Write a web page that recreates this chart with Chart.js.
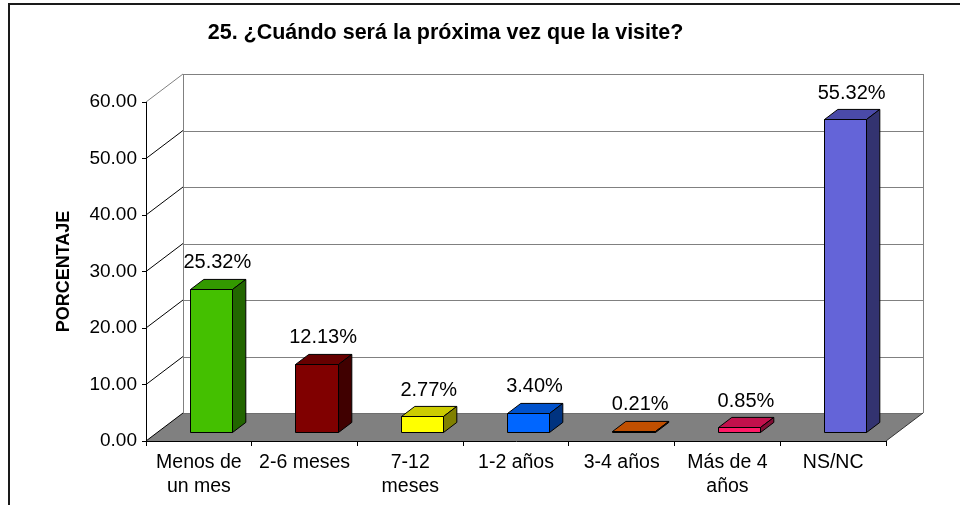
<!DOCTYPE html>
<html>
<head>
<meta charset="utf-8">
<script src="https://cdn.jsdelivr.net/npm/chart.js@4.4.0/dist/chart.umd.min.js"></script>
<style>
  html, body { margin: 0; padding: 0; background: #fff; }
  #wrap { width: 965px; height: 505px; }
</style>
</head>
<body>
<div id="wrap"><canvas id="chart" width="965" height="505"></canvas></div>
<script>
const chartTitle = '25. ¿Cuándo será la próxima vez que la visite?';
const categories = [['Menos de', 'un mes'], '2-6 meses', ['7-12', 'meses'], '1-2 años', '3-4 años', ['Más de 4', 'años'], 'NS/NC'];
const percentages = [25.32, 12.13, 2.77, 3.40, 0.21, 0.85, 55.32];
const yTicks = [0, 10, 20, 30, 40, 50, 60];

// colours of each bar: front face, top face, side face
const barFront = ['#44C000', '#800000', '#FFFF00', '#0066FF', '#E65C00', '#FF1966', '#6464D8'];
const barTop   = ['#339900', '#660000', '#CCCC00', '#0052CC', '#C04F00', '#C2104C', '#4A4AA8'];
const barSide  = ['#226600', '#400000', '#808000', '#003380', '#733000', '#800D33', '#333370'];

// depth of the 3d box and where the bars sit inside it
const DX = 37, DY = -28;
const FRONT = 0.32, BACK = 0.68;
const FONT = '"Liberation Sans", Arial, sans-serif';

Chart.defaults.font.family = FONT;
Chart.defaults.color = '#000';

function face(ctx, pts, fill) {
  ctx.beginPath();
  ctx.moveTo(pts[0][0], pts[0][1]);
  for (let k = 1; k < pts.length; k++) ctx.lineTo(pts[k][0], pts[k][1]);
  ctx.closePath();
  ctx.fillStyle = fill;
  ctx.fill();
  ctx.stroke();
}

function line(ctx, x1, y1, x2, y2, color) {
  ctx.strokeStyle = color;
  ctx.beginPath();
  ctx.moveTo(x1, y1);
  ctx.lineTo(x2, y2);
  ctx.stroke();
}

const box3d = {
  id: 'box3d',
  beforeDraw(chart) {
    const { ctx, chartArea: a, scales: { y } } = chart;
    const y0 = y.getPixelForValue(0);
    const yTop = y.getPixelForValue(yTicks[yTicks.length - 1]);
    ctx.save();

    // frame of the picture (top and left only)
    ctx.fillStyle = '#1a1a1a';
    ctx.fillRect(8, 3, 2, 502);
    ctx.fillRect(8, 3, 952, 2);

    // title
    ctx.fillStyle = '#000';
    ctx.font = 'bold 21.5px ' + FONT;
    ctx.textAlign = 'center';
    ctx.textBaseline = 'middle';
    ctx.fillText(chartTitle, 445.5, 33);

    // floor
    ctx.fillStyle = '#808080';
    ctx.beginPath();
    ctx.moveTo(a.left, y0);
    ctx.lineTo(a.right, y0);
    ctx.lineTo(a.right + DX, y0 + DY);
    ctx.lineTo(a.left + DX, y0 + DY);
    ctx.closePath();
    ctx.fill();

    ctx.lineWidth = 1;
    // back wall grid
    yTicks.forEach(t => {
      const py = Math.round(y.getPixelForValue(t) + DY) + 0.5;
      line(ctx, Math.round(a.left + DX), py, Math.round(a.right + DX), py, t === 0 ? '#6e6e6e' : '#808080');
    });
    // wall edges
    const lx = Math.round(a.left + DX) + 0.5, rx = Math.round(a.right + DX) + 0.5;
    line(ctx, lx, yTop + DY, lx, y0 + DY, '#808080');
    line(ctx, rx, yTop + DY, rx, y0 + DY, '#808080');
    // side wall diagonals
    yTicks.forEach(t => {
      const py = y.getPixelForValue(t);
      line(ctx, a.left, py, a.left + DX, py + DY, t === yTicks[yTicks.length - 1] ? '#808080' : '#000');
    });
    // floor right edge
    line(ctx, a.right, y0, a.right + DX, y0 + DY, '#333');
    ctx.restore();
  },
  afterDatasetsDraw(chart) {
    const { ctx, scales: { y } } = chart;
    const meta = chart.getDatasetMeta(0);
    const bx = DX * (BACK - FRONT), by = DY * (BACK - FRONT);
    ctx.save();
    ctx.lineWidth = 1;
    ctx.strokeStyle = '#000';
    ctx.lineJoin = 'round';
    meta.data.forEach((bar, i) => {
      const l = Math.round(bar.x - bar.width / 2 + DX * FRONT) + 0.5;
      const r = Math.round(bar.x + bar.width / 2 + DX * FRONT) + 0.5;
      const t = Math.round(bar.y + DY * FRONT) + 0.5;
      const b = Math.round(y.getPixelForValue(0) + DY * FRONT) + 0.5;
      face(ctx, [[l, t], [r, t], [r, b], [l, b]], barFront[i]);
      face(ctx, [[l, t], [l + bx, t + by], [r + bx, t + by], [r, t]], barTop[i]);
      face(ctx, [[r, t], [r + bx, t + by], [r + bx, b + by], [r, b]], barSide[i]);
    });
    // value labels
    ctx.fillStyle = '#000';
    ctx.font = '20px ' + FONT;
    ctx.textAlign = 'center';
    ctx.textBaseline = 'middle';
    meta.data.forEach((bar, i) => {
      ctx.fillText(percentages[i].toFixed(2) + '%', bar.x + DX * 0.5, bar.y + DY * 0.5 - 21);
    });
    ctx.restore();
  }
};

new Chart(document.getElementById('chart'), {
  type: 'bar',
  data: {
    labels: categories,
    datasets: [{
      label: 'PORCENTAJE',
      data: percentages,
      backgroundColor: 'rgba(0,0,0,0)',
      borderWidth: 0,
      barPercentage: 0.4,
      categoryPercentage: 1
    }]
  },
  options: {
    responsive: false,
    animation: false,
    layout: { padding: { left: 49, right: 79, top: 102, bottom: 0 } },
    plugins: {
      legend: { display: false },
      tooltip: { enabled: false },
      title: { display: false }
    },
    scales: {
      x: {
        grid: { drawOnChartArea: false, drawTicks: true, tickLength: 5, color: '#000', offset: true },
        border: { display: true, color: '#000', width: 1 },
        ticks: { font: { size: 19.5, lineHeight: 1.23 }, maxRotation: 0, autoSkip: false, padding: 5, color: '#000' },
        afterFit(s) { s.height = 64; }
      },
      y: {
        min: 0,
        max: 60,
        grid: { drawOnChartArea: false, drawTicks: true, tickLength: 4, color: '#000' },
        border: { display: true, color: '#000', width: 1 },
        ticks: {
          stepSize: 10,
          font: { size: 19 },
          padding: 5,
          color: '#000',
          callback: v => v.toFixed(2)
        },
        title: { display: true, text: 'PORCENTAJE', font: { size: 18, weight: 'bold' }, color: '#000', padding: 4 },
        afterFit(s) { s.width = 97; }
      }
    }
  },
  plugins: [box3d]
});
</script>
</body>
</html>
